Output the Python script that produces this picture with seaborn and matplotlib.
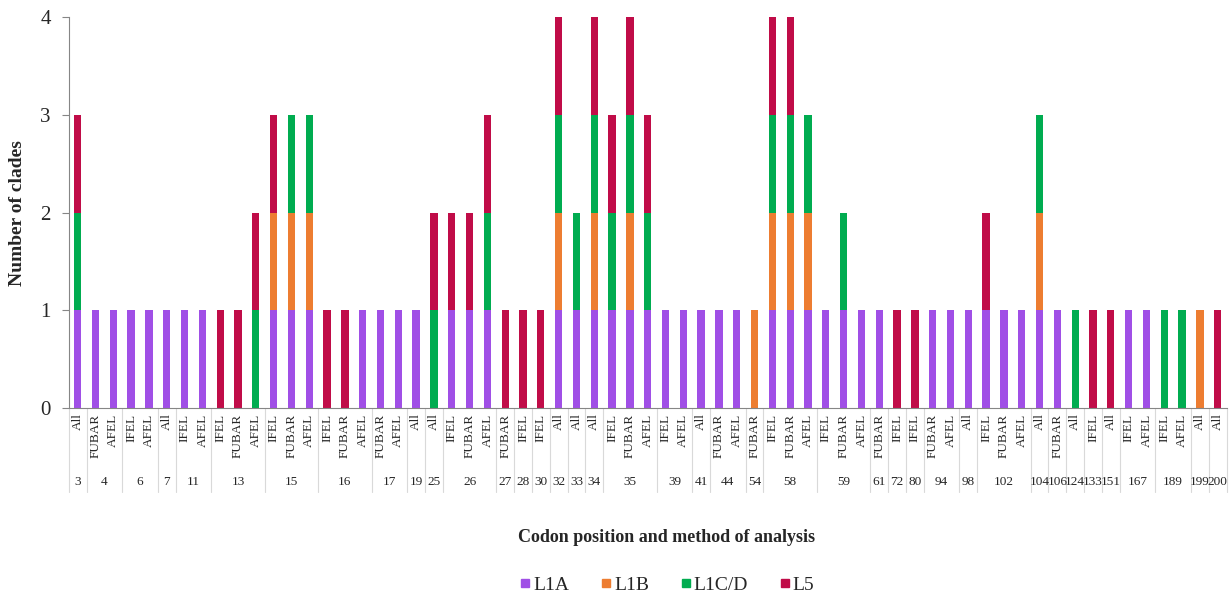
import pandas as pd
import matplotlib
matplotlib.use("Agg")
import matplotlib.pyplot as plt
from matplotlib.lines import Line2D
import seaborn as sns

# one entry per bar: codon position, method, clade counts
codon = [3, 4, 4, 6, 6, 7, 11, 11, 13, 13, 13, 15, 15, 15, 16, 16, 16, 17, 17, 19,
         25, 26, 26, 26, 27, 28, 30, 32, 33, 34, 35, 35, 35, 39, 39, 41, 44, 44, 54,
         58, 58, 58, 59, 59, 59, 61, 72, 80, 94, 94, 98, 102, 102, 102, 104, 106,
         124, 133, 151, 167, 167, 189, 189, 199, 200]
method = ["All", "FUBAR", "AFEL", "IFEL", "AFEL", "All", "IFEL", "AFEL",
          "IFEL", "FUBAR", "AFEL", "IFEL", "FUBAR", "AFEL", "IFEL", "FUBAR", "AFEL",
          "FUBAR", "AFEL", "All", "All", "IFEL", "FUBAR", "AFEL", "FUBAR", "IFEL",
          "IFEL", "All", "All", "All", "IFEL", "FUBAR", "AFEL", "IFEL", "AFEL", "All",
          "FUBAR", "AFEL", "FUBAR", "IFEL", "FUBAR", "AFEL", "IFEL", "FUBAR", "AFEL",
          "FUBAR", "IFEL", "IFEL", "FUBAR", "AFEL", "All", "IFEL", "FUBAR", "AFEL",
          "All", "FUBAR", "All", "IFEL", "All", "IFEL", "AFEL", "IFEL", "AFEL",
          "All", "All"]
l1a = [1, 1, 1, 1, 1, 1, 1, 1, 0, 0, 0, 1, 1, 1, 0, 0, 1, 1, 1, 1,
       0, 1, 1, 1, 0, 0, 0, 1, 1, 1, 1, 1, 1, 1, 1, 1, 1, 1, 0,
       1, 1, 1, 1, 1, 1, 1, 0, 0, 1, 1, 1, 1, 1, 1, 1, 1,
       0, 0, 0, 1, 1, 0, 0, 0, 0]
l1b = [0, 0, 0, 0, 0, 0, 0, 0, 0, 0, 0, 1, 1, 1, 0, 0, 0, 0, 0, 0,
       0, 0, 0, 0, 0, 0, 0, 1, 0, 1, 0, 1, 0, 0, 0, 0, 0, 0, 1,
       1, 1, 1, 0, 0, 0, 0, 0, 0, 0, 0, 0, 0, 0, 0, 1, 0,
       0, 0, 0, 0, 0, 0, 0, 1, 0]
l1cd = [1, 0, 0, 0, 0, 0, 0, 0, 0, 0, 1, 0, 1, 1, 0, 0, 0, 0, 0, 0,
        1, 0, 0, 1, 0, 0, 0, 1, 1, 1, 1, 1, 1, 0, 0, 0, 0, 0, 0,
        1, 1, 1, 0, 1, 0, 0, 0, 0, 0, 0, 0, 0, 0, 0, 1, 0,
        1, 0, 0, 0, 0, 1, 1, 0, 0]
l5 = [1, 0, 0, 0, 0, 0, 0, 0, 1, 1, 1, 1, 0, 0, 1, 1, 0, 0, 0, 0,
      1, 1, 1, 1, 1, 1, 1, 1, 0, 1, 1, 1, 1, 0, 0, 0, 0, 0, 0,
      1, 1, 0, 0, 0, 0, 0, 1, 1, 0, 0, 0, 1, 0, 0, 0, 0,
      0, 1, 1, 0, 0, 0, 0, 0, 1]

clades = ["L1A", "L1B", "L1C/D", "L5"]
colors = {"L1A": "#a04fe6", "L1B": "#ed7d31", "L1C/D": "#00ac50", "L5": "#c00c48"}

df = pd.DataFrame({"codon": codon, "method": method,
                   "L1A": l1a, "L1B": l1b, "L1C/D": l1cd, "L5": l5})
df["bar"] = df["codon"].astype(str) + "-" + df["method"]
cum = df[clades].cumsum(axis=1)

sns.set_style("white")
plt.rcParams["font.family"] = ["Liberation Serif", "DejaVu Serif"]

W, H = 1232, 598
fig = plt.figure(figsize=(W / 100, H / 100), dpi=100)
ax = fig.add_axes([68.8 / W, 190 / H, 1157.8 / W, 391 / H])

# stacked bars: draw cumulative totals from the top segment down
for clade in reversed(clades):
    sns.barplot(x=df["bar"], y=cum[clade], order=list(df["bar"]),
                color=colors[clade], width=0.41, saturation=1,
                linewidth=0, errorbar=None, ax=ax)

ax.set_xlim(-0.5, len(df) - 0.5)
ax.set_ylim(0, 4)
ax.set_yticks([0, 1, 2, 3, 4])
ax.set_xticks([])
ax.set_xlabel("")
ax.set_ylabel("")
ax.tick_params(axis="y", labelsize=15, length=5, width=0.8, color="#868686",
               direction="out", left=True, pad=8)
for side in ["top", "right"]:
    ax.spines[side].set_visible(False)
for side in ["left", "bottom"]:
    ax.spines[side].set_color("#868686")
    ax.spines[side].set_linewidth(0.8)

# two-level category axis
tr = ax.get_xaxis_transform()
for i, m in enumerate(df["method"]):
    ax.text(i, -0.014, m, transform=tr, rotation=90, ha="center", va="top",
            fontsize=9.5)

groups = df.reset_index().groupby("codon", sort=False)["index"].agg(["min", "max"])
bounds = [-0.5]
for cd, row in groups.iterrows():
    ax.text((row["min"] + row["max"]) / 2, -0.19, str(cd), transform=tr,
            ha="center", va="center", fontsize=9.5)
    bounds.append(row["max"] + 0.5)
for b in bounds:
    ax.plot([b, b], [0, -0.215], transform=tr, clip_on=False,
            color="#d9d9d9", lw=0.8)

fig.text(18 / W, 1 - 213 / H, "Number of clades", rotation=90, ha="center",
         va="center", fontsize=14, fontweight="bold")
fig.text(667 / W, 1 - 538 / H, "Codon position and method of analysis",
         ha="center", va="center", fontsize=13, fontweight="bold")

handles = [Line2D([], [], marker="s", linestyle="", color=colors[c], markersize=6)
           for c in clades]
fig.legend(handles, clades, loc="center", bbox_to_anchor=(667 / W, 1 - 585 / H),
           ncol=4, frameon=False, fontsize=14, handlelength=0.6,
           handletextpad=0.1, columnspacing=1.6)

fig.savefig("out.png", dpi=100)
